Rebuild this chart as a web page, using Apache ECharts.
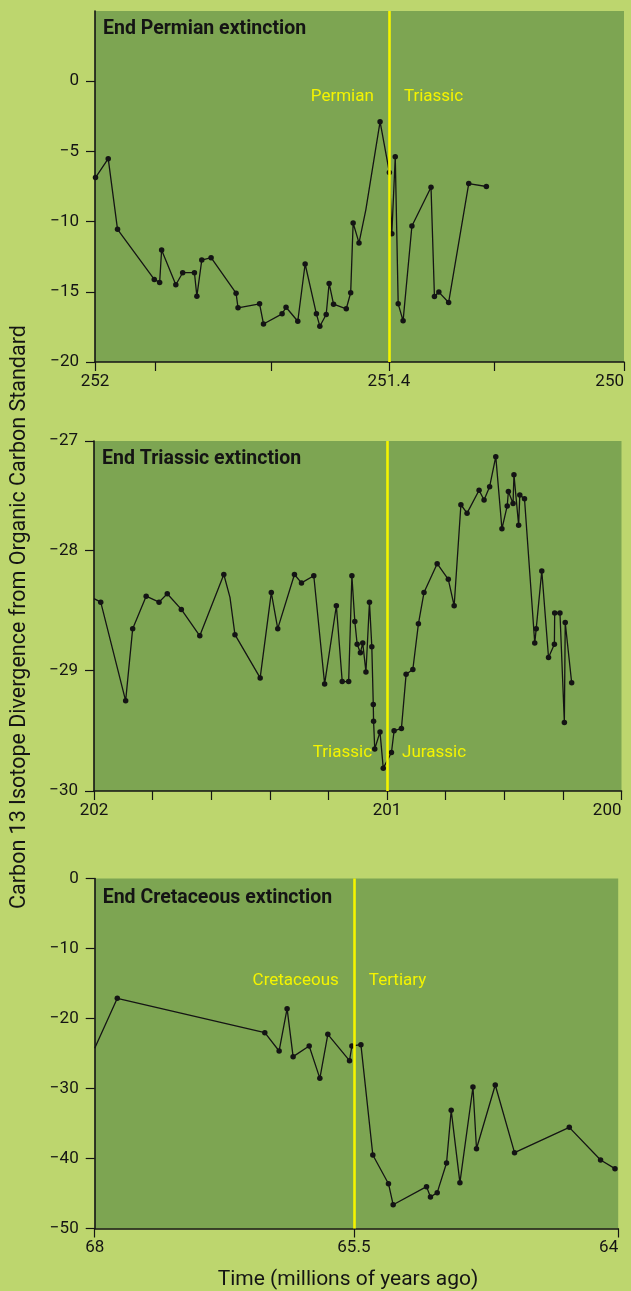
<!DOCTYPE html>
<html><head><meta charset="utf-8">
<script src="https://cdn.jsdelivr.net/npm/echarts@6/dist/echarts.min.js"></script>
<style>html,body{margin:0;padding:0;background:#bdd66e;} #c{width:631px;height:1291px;}</style>
</head><body><div id="c"></div>
<script>
// ---------- End Permian panel ----------
const permianTime = [251.999,251.973,251.954,251.879,251.868,251.864,251.835,251.821,251.797,251.792,251.782,251.763,251.712,251.708,251.664,251.656,251.618,251.610,251.586,251.571,251.548,251.541,251.528,251.522,251.513,251.487,251.478,251.473,251.461,251.447,251.418,251.399,251.394,251.387,251.381,251.371,251.353,251.314,251.307,251.298,251.278,251.237,251.201];
const permianC13 = [-6.86,-5.52,-10.55,-14.12,-14.33,-12.02,-14.50,-13.64,-13.64,-15.31,-12.74,-12.57,-15.10,-16.14,-15.86,-17.29,-16.57,-16.10,-17.10,-13.02,-16.57,-17.45,-16.62,-14.40,-15.88,-16.21,-15.07,-10.10,-11.52,-9.14,-2.88,-6.50,-10.86,-5.38,-15.86,-17.07,-10.31,-7.55,-15.33,-15.02,-15.76,-7.29,-7.50];
const permianUndotted = [29];
const permianTickValues = [252, 251.878, 251.641, 251.4, 251.184, 250.92];
const permianLabelValues = [252, 251.4, 250.92];
const permianLabelTexts = ['252', '251.4', '250'];
const permianYLabels = [0, -5, -10, -15, -20];

// ---------- End Triassic panel ----------
const triassicTime = [202.000,201.977,201.892,201.868,201.822,201.778,201.750,201.702,201.639,201.557,201.536,201.519,201.433,201.395,201.373,201.316,201.292,201.250,201.213,201.173,201.153,201.131,201.120,201.110,201.102,201.091,201.083,201.072,201.060,201.052,201.047,201.046,201.042,201.024,201.013,200.985,200.976,200.951,200.935,200.912,200.893,200.874,200.829,200.791,200.771,200.748,200.727,200.686,200.669,200.650,200.629,200.608,200.590,200.586,200.570,200.567,200.551,200.547,200.531,200.496,200.491,200.472,200.449,200.429,200.428,200.410,200.395,200.392,200.370];
const triassicC13 = [-28.40,-28.43,-29.25,-28.65,-28.38,-28.43,-28.36,-28.49,-28.71,-28.20,-28.39,-28.70,-29.06,-28.35,-28.65,-28.20,-28.27,-28.21,-29.11,-28.46,-29.09,-29.09,-28.21,-28.59,-28.78,-28.85,-28.77,-29.01,-28.43,-28.80,-29.28,-29.42,-29.65,-29.51,-29.81,-29.68,-29.50,-29.48,-29.03,-28.99,-28.61,-28.35,-28.11,-28.24,-28.46,-27.62,-27.69,-27.50,-27.58,-27.47,-27.22,-27.82,-27.63,-27.51,-27.61,-27.37,-27.79,-27.54,-27.57,-28.77,-28.65,-28.17,-28.89,-28.78,-28.52,-28.52,-29.43,-28.60,-29.10];
const triassicUndotted = [0, 10];
const triassicTickValues = [202, 201.8, 201.6, 201.4, 201.2, 201, 200.8, 200.6, 200.4, 200.2];
const triassicLabelValues = [202, 201, 200.2];
const triassicLabelTexts = ['202', '201', '200'];
const triassicYLabels = [-27.09, -28, -29, -30];

// ---------- End Cretaceous panel ----------
const cretaceousTime = [68.000,67.782,66.359,66.221,66.144,66.086,65.931,65.828,65.751,65.542,65.519,65.432,65.317,65.166,65.121,64.799,64.761,64.696,64.606,64.561,64.477,64.351,64.317,64.136,63.950,63.422,63.120,62.981];
const cretaceousC13 = [-24.26,-17.11,-22.02,-24.64,-18.60,-25.45,-23.93,-28.55,-22.26,-26.02,-23.93,-23.74,-39.50,-43.60,-46.60,-44.02,-45.50,-44.88,-40.64,-33.12,-43.45,-29.79,-38.60,-29.50,-39.17,-35.55,-40.21,-41.45];
const cretaceousUndotted = [0];
const cretaceousTickValues = [68, 65.5, 62.95];
const cretaceousLabelValues = [68, 65.5, 62.95];
const cretaceousLabelTexts = ['68', '65.5', '64'];
const cretaceousYLabels = [0, -10, -20, -30, -40, -50];

const FONT = 'Roboto, "Noto Sans", sans-serif';
const INK = '#141414';
const YELLOW = '#f4f400';

const panels = [
  {title:'End Permian extinction', time:permianTime, c13:permianC13, undotted:permianUndotted,
   boundary:251.4, xMin:250.92, xMax:252, ticks:permianTickValues, lv:permianLabelValues, lt:permianLabelTexts,
   yMin:-20, yMax:5, yl:permianYLabels, before:'Permian', after:'Triassic',
   grid:{left:95, top:11, width:529, height:351}, titleY:29, periodY:97},
  {title:'End Triassic extinction', time:triassicTime, c13:triassicC13, undotted:triassicUndotted,
   boundary:201, xMin:200.2, xMax:202, ticks:triassicTickValues, lv:triassicLabelValues, lt:triassicLabelTexts,
   yMin:-30, yMax:-27.09, yl:triassicYLabels, before:'Triassic', after:'Jurassic',
   grid:{left:94, top:441, width:527.5, height:350}, titleY:459, periodY:753},
  {title:'End Cretaceous extinction', time:cretaceousTime, c13:cretaceousC13, undotted:cretaceousUndotted,
   boundary:65.5, xMin:62.95, xMax:68, ticks:cretaceousTickValues, lv:cretaceousLabelValues, lt:cretaceousLabelTexts,
   yMin:-50, yMax:0, yl:cretaceousYLabels, before:'Cretaceous', after:'Tertiary',
   grid:{left:94.7, top:878.5, width:523.5, height:350}, titleY:898, periodY:981}
];

const fmtY = v => { const r = Math.round(v); return r < 0 ? '\u2212' + Math.abs(r) : String(r); };

const grids = [], xAxes = [], yAxes = [], series = [];
panels.forEach((p, i) => {
  grids.push(Object.assign({show:true, backgroundColor:'#7da552', borderWidth:0, outerBoundsMode:'none'}, p.grid));
  xAxes.push({type:'value', gridIndex:i, inverse:true, min:p.xMin, max:p.xMax,
    axisLine:{show:true, onZero:false, lineStyle:{color:INK, width:1.6}},
    axisTick:{show:true, customValues:p.ticks, length:9, lineStyle:{color:INK, width:1.2}},
    axisLabel:{show:true, customValues:p.lv, margin:11, fontSize:17, color:INK, fontFamily:FONT, alignMaxLabel:'right',
      formatter: v => { const k = p.lv.findIndex(a => Math.abs(a - v) < 1e-6); return k >= 0 ? p.lt[k] : ''; }},
    splitLine:{show:false}});
  yAxes.push({type:'value', gridIndex:i, min:p.yMin, max:p.yMax,
    axisLine:{show:true, onZero:false, lineStyle:{color:INK, width:1.6}},
    axisTick:{show:true, customValues:p.yl, length:9, lineStyle:{color:INK, width:1.2}},
    axisLabel:{show:true, customValues:p.yl, margin:16, fontSize:17, color:INK, fontFamily:FONT, formatter:fmtY},
    splitLine:{show:false}});
  series.push({type:'line', xAxisIndex:i, yAxisIndex:i, data:[], z:1, silent:true,
    markLine:{silent:true, symbol:['none','none'], label:{show:false}, animation:false,
      lineStyle:{color:YELLOW, width:2.6, type:'solid'}, data:[{xAxis:p.boundary}]}});
  series.push({type:'line', xAxisIndex:i, yAxisIndex:i, z:3, animation:false,
    data:p.time.map((t, k) => ({value:[t, p.c13[k]], symbol: p.undotted.includes(k) ? 'none' : 'circle'})),
    symbolSize:5.5, showAllSymbol:true,
    itemStyle:{color:INK}, lineStyle:{color:INK, width:1.3}});
});

const graphics = [];
panels.forEach(p => {
  graphics.push({type:'text', x:p.grid.left + 8, y:p.titleY, z:10,
    style:{text:p.title, fontFamily:FONT, fontWeight:'bold', fontSize:19.5, fill:INK, align:'left', verticalAlign:'middle'}});
});
graphics.push({type:'text', x:20, y:617, rotation:Math.PI/2, z:10,
  style:{text:'Carbon 13 Isotope Divergence from Organic Carbon Standard', fontFamily:FONT, fontSize:21.5, fill:INK, align:'center', verticalAlign:'middle'}});
graphics.push({type:'text', x:348, y:1280, z:10,
  style:{text:'Time (millions of years ago)', fontFamily:FONT, fontSize:21, fill:INK, align:'center', verticalAlign:'middle'}});

const chart = echarts.init(document.getElementById('c'), null, {renderer:'canvas'});
chart.setOption({backgroundColor:'#bdd66e', animation:false, grid:grids, xAxis:xAxes, yAxis:yAxes, series:series, graphic:graphics});

// period labels anchored on each boundary
const extra = [];
panels.forEach((p, i) => {
  const bx = chart.convertToPixel({xAxisIndex:i}, p.boundary);
  extra.push({type:'text', x:bx - 15, y:p.periodY, z:10,
    style:{text:p.before, fontFamily:FONT, fontSize:17, fill:YELLOW, align:'right', verticalAlign:'middle'}});
  extra.push({type:'text', x:bx + 15, y:p.periodY, z:10,
    style:{text:p.after, fontFamily:FONT, fontSize:17, fill:YELLOW, align:'left', verticalAlign:'middle'}});
});
chart.setOption({graphic:graphics.concat(extra)});
</script></body></html>
